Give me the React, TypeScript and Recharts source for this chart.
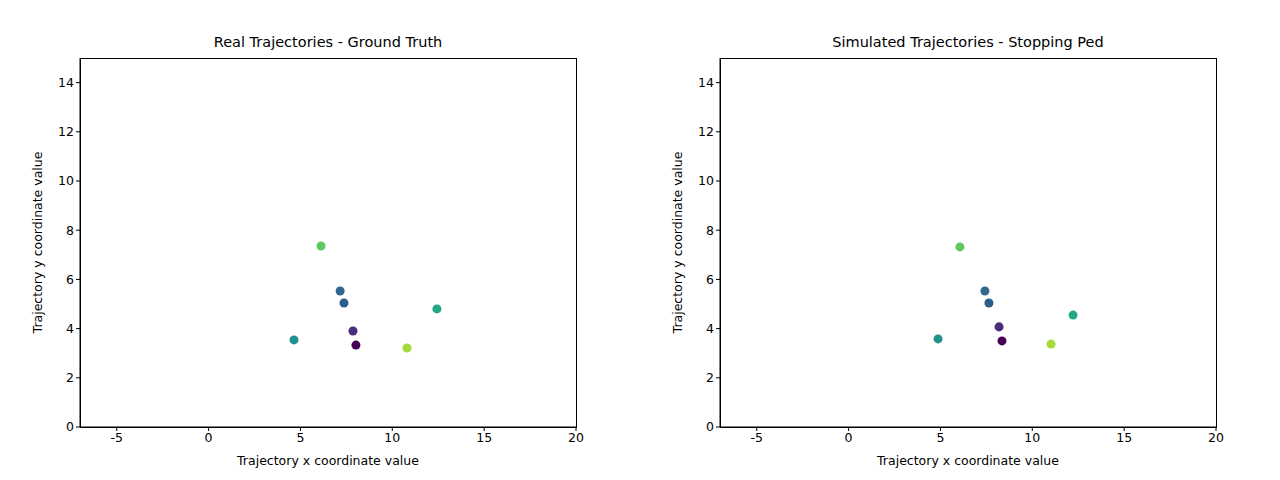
import React from "react";
import { ScatterChart, Scatter, XAxis, YAxis, ZAxis, Cell, Label } from "recharts";

const colors = ["#440154", "#472d7b", "#31688e", "#2c5e8a", "#21918c", "#22a884", "#5ec962", "#a5db36"];

const realX = [8.02, 7.86, 7.16, 7.37, 4.65, 12.43, 6.12, 10.8];
const realY = [3.33, 3.9, 5.53, 5.04, 3.54, 4.8, 7.36, 3.21];
const simX = [8.35, 8.19, 7.42, 7.64, 4.87, 12.22, 6.06, 11.02];
const simY = [3.5, 4.07, 5.53, 5.04, 3.58, 4.55, 7.32, 3.37];

const xTicks = [-5, 0, 5, 10, 15, 20];
const yTicks = [0, 2, 4, 6, 8, 10, 12, 14];

const font = { fontFamily: "DejaVu Sans", fontSize: 12.5, fill: "#000" };

const Panel = ({ title, xs, ys }: { title: string; xs: number[]; ys: number[] }) => {
  const data = xs.map((x, i) => ({ x, y: ys[i] }));
  return (
    <div style={{ position: "relative", width: 640, height: 480 }}>
      <div style={{ position: "absolute", top: 34, left: 80, width: 496, textAlign: "center", fontFamily: "DejaVu Sans", fontSize: 14.5 }}>
        {title}
      </div>
      <div style={{ position: "absolute", top: 58, left: 80, width: 495, height: 368, border: "1px solid #000", pointerEvents: "none" }} />
      <ScatterChart width={640} height={480} margin={{ top: 58, left: 0, right: 64, bottom: 23 }}>
        <XAxis type="number" dataKey="x" domain={[-7, 20]} ticks={xTicks} height={30} tick={font}
          stroke="#000" tickSize={4} allowDataOverflow>
          <Label value="Trajectory x coordinate value" position="insideBottom" offset={-8} style={font} />
        </XAxis>
        <YAxis type="number" dataKey="y" domain={[0, 15]} ticks={yTicks} width={80} tick={font}
          stroke="#000" tickSize={4} allowDataOverflow>
          <Label value="Trajectory y coordinate value" angle={-90} position="insideLeft" offset={38} style={{ ...font, textAnchor: "middle" }} />
        </YAxis>
        <ZAxis range={[18, 18]} />
        <Scatter data={data} isAnimationActive={false}>
          {data.map((_, i) => (
            <Cell key={i} fill={colors[i]} />
          ))}
        </Scatter>
      </ScatterChart>
    </div>
  );
};

export default function App() {
  return (
    <div style={{ position: "absolute", left: 0, top: 0, width: 1280, height: 480, display: "flex", background: "#fff" }}>
      <Panel title="Real Trajectories - Ground Truth" xs={realX} ys={realY} />
      <Panel title="Simulated Trajectories - Stopping Ped" xs={simX} ys={simY} />
    </div>
  );
}
